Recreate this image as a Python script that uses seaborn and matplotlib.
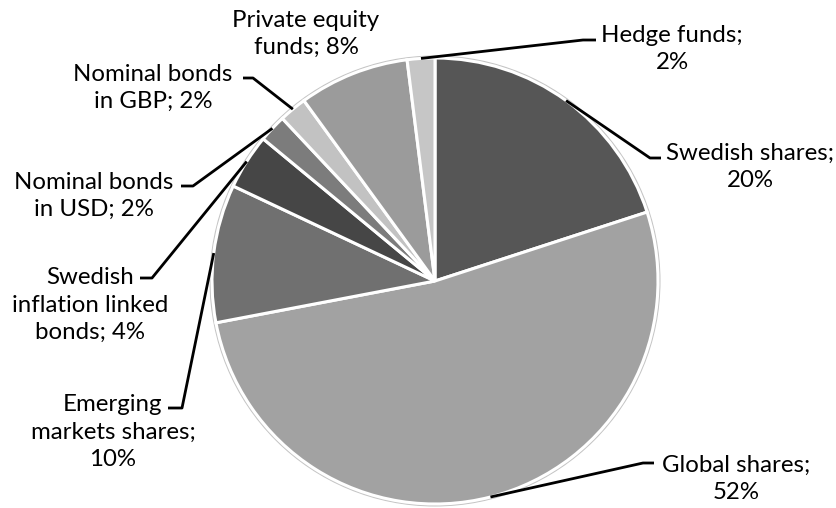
import numpy as np
import matplotlib
matplotlib.use("Agg")
import matplotlib.pyplot as plt
from matplotlib.patches import Circle
import seaborn as sns

# Portfolio allocation, clockwise from 12 o'clock
categories = [
    "Swedish shares",
    "Global shares",
    "Emerging markets shares",
    "Swedish inflation linked bonds",
    "Nominal bonds in USD",
    "Nominal bonds in GBP",
    "Private equity funds",
    "Hedge funds",
]
shares = [20, 52, 10, 4, 2, 2, 8, 2]
label_lines = [
    ["Swedish shares;", "{}%"],
    ["Global shares;", "{}%"],
    ["Emerging", "markets shares;", "{}%"],
    ["Swedish", "inflation linked", "bonds; {}%"],
    ["Nominal bonds", "in USD; {}%"],
    ["Nominal bonds", "in GBP; {}%"],
    ["Private equity", "funds; {}%"],
    ["Hedge funds;", "{}%"],
]
slice_colors = ["#565656", "#a2a2a2", "#707070", "#464646",
                "#7c7c7c", "#c2c2c2", "#9b9b9b", "#c6c6c6"]

sns.set_theme(style="white")
plt.rcParams["font.family"] = ["Lato", "DejaVu Sans"]

W, H = 837, 508
fig = plt.figure(figsize=(W / 100, H / 100), dpi=100)
ax = fig.add_axes([0, 0, 1, 1])

cx, cy, r = 435, 281, 223

# soft rim around the pie
ax.add_patch(Circle((cx, cy), r + 2.5, facecolor="#c4c4c4", edgecolor="none", zorder=0))

# y axis is flipped below, so counterclockwise in data is clockwise on screen
wedges, _ = ax.pie(
    shares,
    colors=slice_colors,
    startangle=-90,
    counterclock=True,
    center=(cx, cy),
    radius=r,
    wedgeprops=dict(edgecolor="white", linewidth=2.2),
    frame=False,
)

ax.set_xlim(0, W)
ax.set_ylim(H, 0)
ax.set_aspect("equal")
ax.axis("off")

# label placement: block centre and leader elbow/end (None = no leader)
label_pos = [(750, 167), (736, 479), (113, 432), (90, 305),
             (94, 196), (153, 88), (306, 34), (672, 49)]
leader_pts = [
    [(650, 158), (661, 158)],
    [(643, 463), (654, 463)],
    [(182, 408), (168, 408)],
    [(152, 278), (140, 278)],
    [(193, 186), (181, 186)],
    [(253, 78), (243, 78)],
    None,
    [(583, 40), (596, 40)],
]

for w, val, lines, pos, lead in zip(wedges, shares, label_lines, label_pos, leader_pts):
    text = "\n".join(lines).format(val)
    ax.text(pos[0], pos[1], text, ha="center", va="center", multialignment="center",
            fontsize=17.3, color="black", linespacing=1.38)
    if lead is not None:
        mid = np.deg2rad((w.theta1 + w.theta2) / 2)
        sx, sy = cx + r * np.cos(mid), cy + r * np.sin(mid)
        xs = [sx] + [p[0] for p in lead]
        ys = [sy] + [p[1] for p in lead]
        ax.plot(xs, ys, color="black", lw=2, solid_capstyle="butt", zorder=5)

fig.savefig("out.png", dpi=100, facecolor="white")
